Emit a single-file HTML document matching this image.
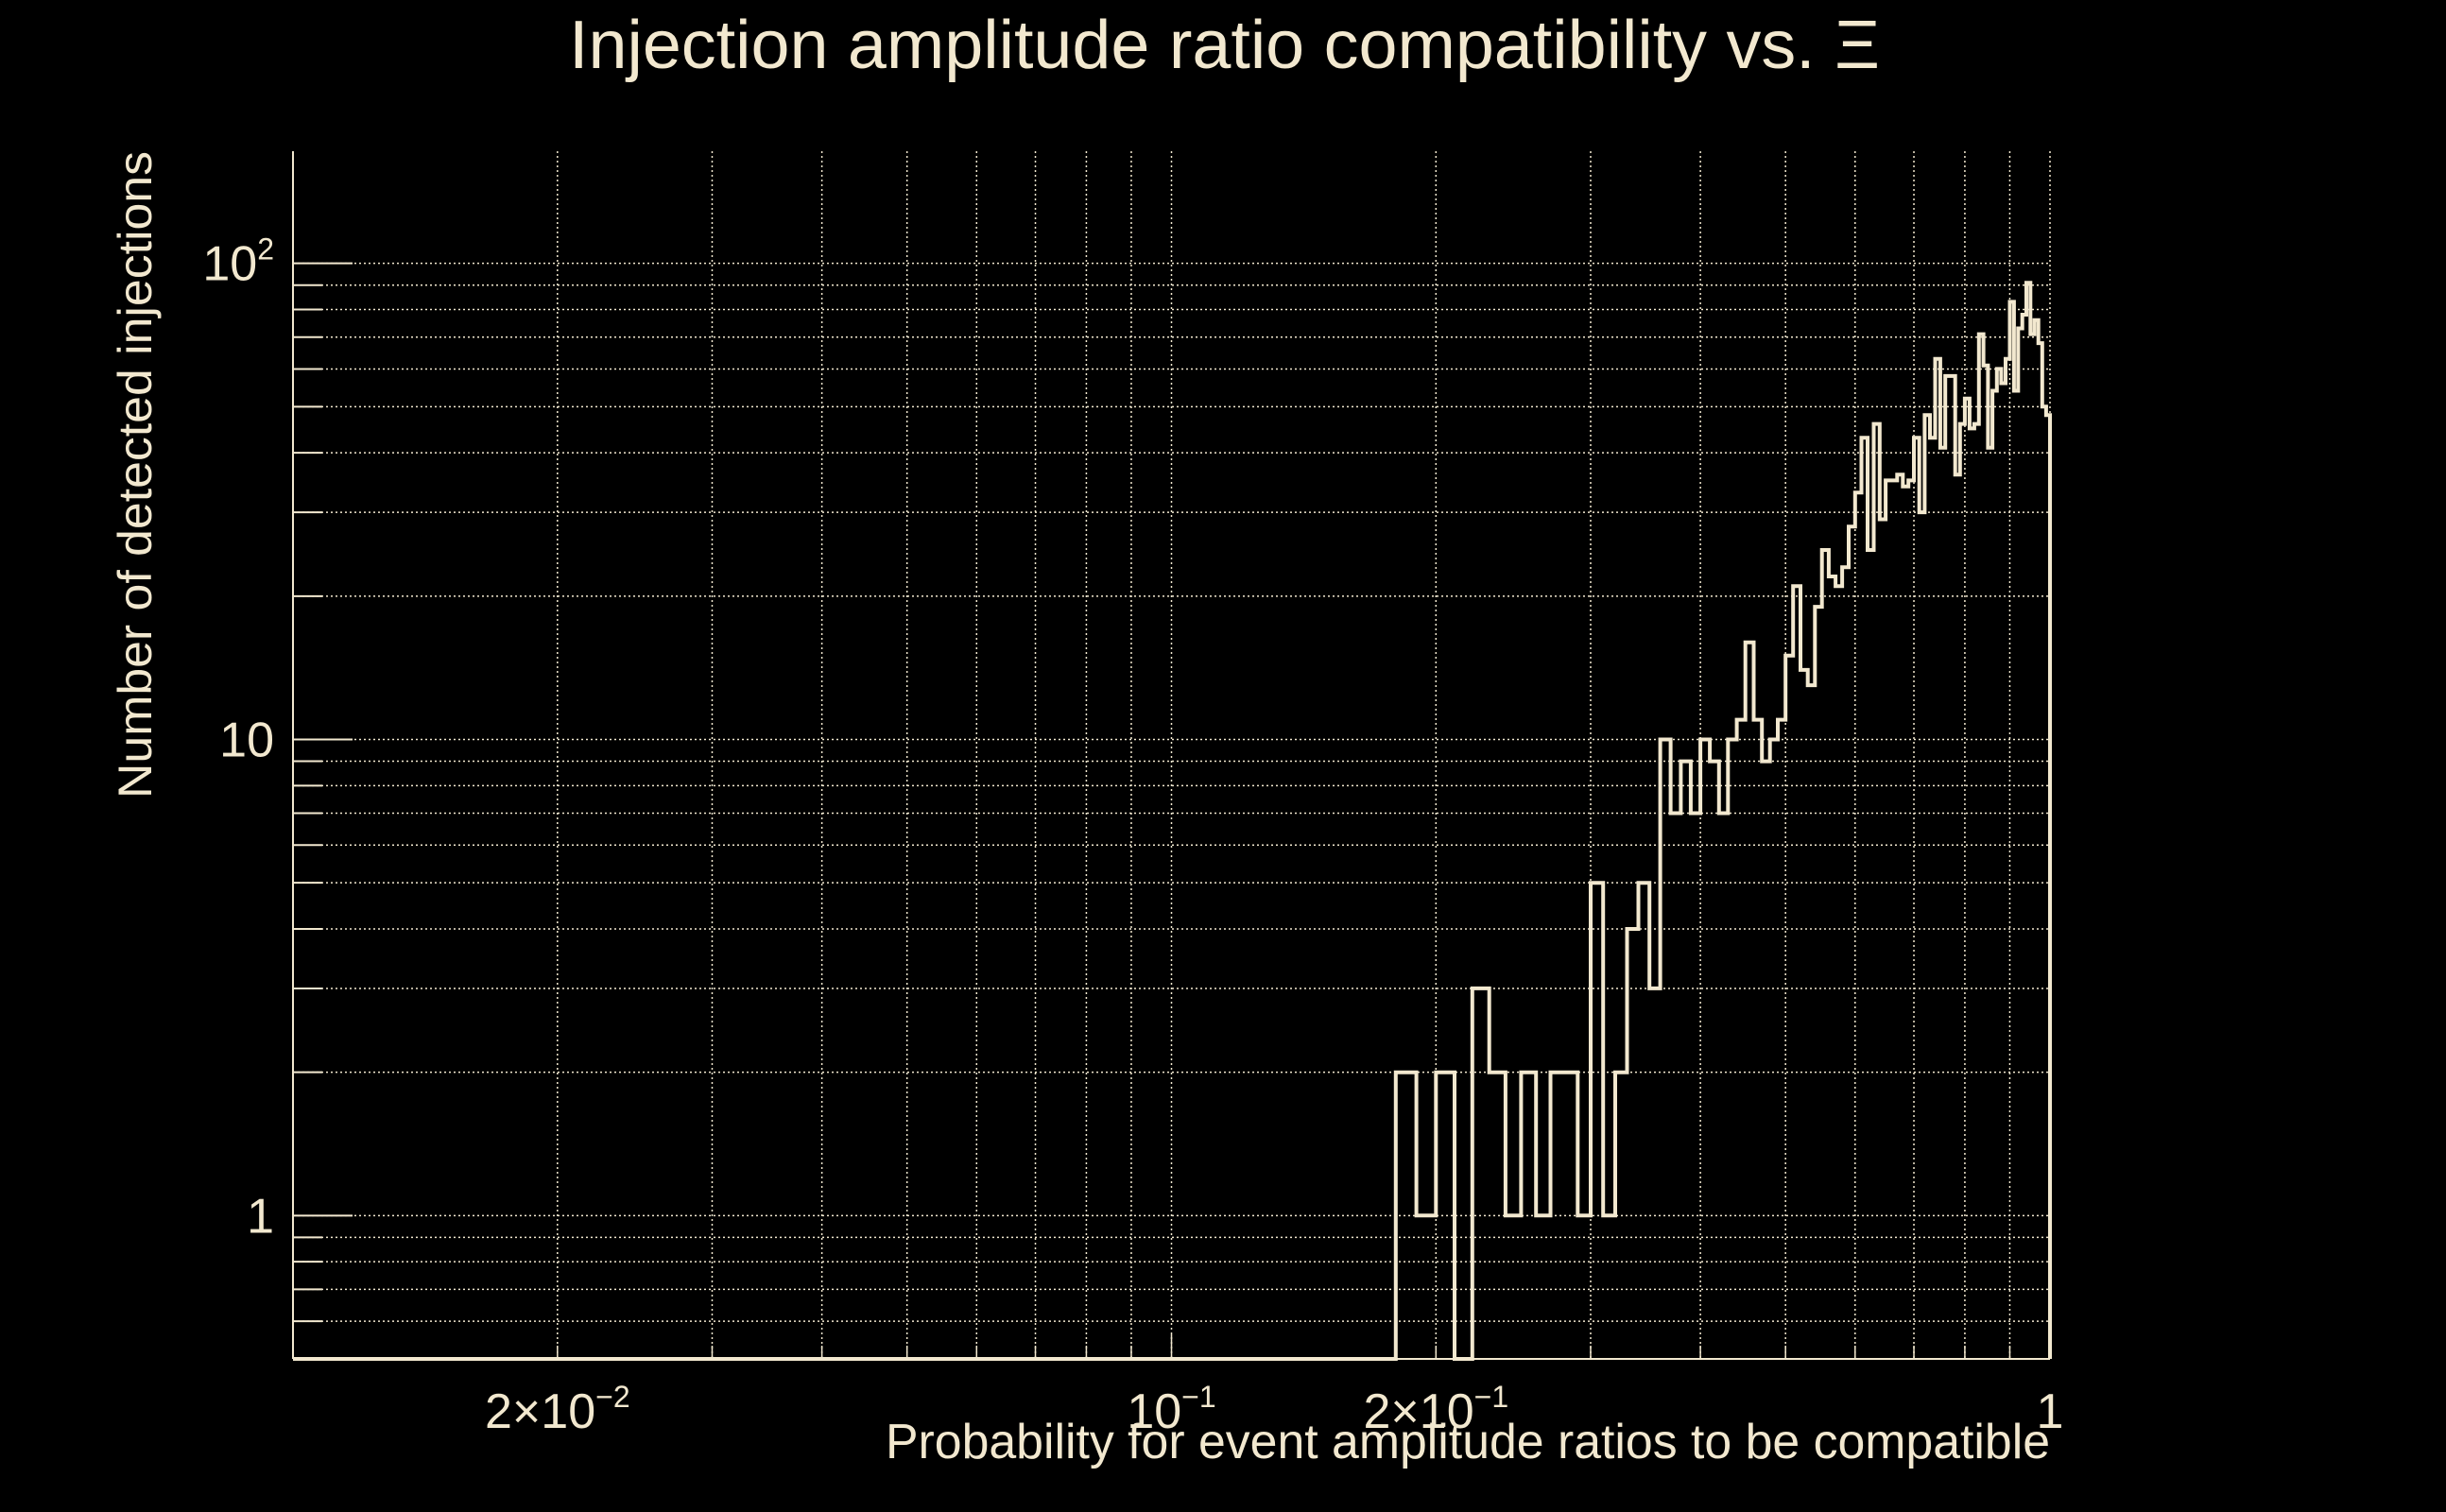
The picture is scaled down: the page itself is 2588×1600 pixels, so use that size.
<!DOCTYPE html>
<html><head><meta charset="utf-8">
<style>
html,body{margin:0;padding:0;background:#000;}
svg{display:block;}
text{font-family:"Liberation Sans",sans-serif;fill:#f2e8cf;}
</style></head>
<body>
<svg id="chart" width="2588" height="1600" viewBox="0 0 2588 1600" xmlns="http://www.w3.org/2000/svg">
<rect x="0" y="0" width="2588" height="1600" fill="#000"/>
<text x="602" y="72" font-size="72" textLength="1387" lengthAdjust="spacingAndGlyphs">Injection amplitude ratio compatibility vs.  Ξ</text>
<g id="grid"></g>
<g id="axes"></g>
<path id="hist" fill="none" stroke="#f2e8cf" stroke-width="4" stroke-linejoin="miter"/>
<text transform="translate(160,845) rotate(-90)" font-size="50" textLength="685" lengthAdjust="spacingAndGlyphs">Number of detected injections</text>
<text x="2169" y="1543" font-size="52" text-anchor="end" textLength="1232" lengthAdjust="spacingAndGlyphs">Probability for event amplitude ratios to be compatible</text>
</svg>
<script>
// bin lower edges (p) and counts, bins of width 0.01 from 0 to 1
const binStarts = [];
for (let i = 0; i < 100; i++) binStarts.push(i / 100);
const countsLow = [0,0,0,0,0,0,0,0,0,0,0,0,0,0,0,0,0,0]; // 0.00 - 0.17
const countsMid = [2,1,2,0,3,2,1,2,1,2,2,1,5,1,2,4,5,3]; // 0.18 - 0.35
const countsHigh = [10,7,9,7,10,9,7,10,11,16,11,9,10,11,15,21,14,13,19,25,22,21,23,28,33,43,25,46,29,35,35,36,34,35,43,30,48,43,63,41,58,58,36,46,52,45,46,71,61,41,54,60,56,63,83,54,73,78,91,71,76,68,50,48]; // 0.36 - 0.99
const counts = countsLow.concat(countsMid, countsHigh);
const xTickVals = [0.02, 0.1, 0.2, 1];
const xTickLabels = ["2×10", "10", "2×10", "1"];
const xTickExps = ["−2", "−1", "−1", ""];
const yTickVals = [1, 10, 100];
const yTickLabels = ["1", "10", "10"];
const yTickExps = ["", "", "2"];

const X0 = 310, X1 = 2169, Y0 = 1438, Y1 = 160;
const xMin = 0.01, xMax = 1, yMin = 0.5, yMax = 172;
function xs(v){ return X0 + (Math.log10(v) - Math.log10(xMin)) / (Math.log10(xMax) - Math.log10(xMin)) * (X1 - X0); }
function ys(v){ if (v <= yMin) return Y0; return Y0 - (Math.log10(v) - Math.log10(yMin)) / (Math.log10(yMax) - Math.log10(yMin)) * (Y0 - Y1); }

const NS = "http://www.w3.org/2000/svg";
const grid = document.getElementById('grid');
const axes = document.getElementById('axes');
const col = "#f2e8cf";
function line(parent, x1, y1, x2, y2, w, dash, name){
  const l = document.createElementNS(NS, 'line');
  l.setAttribute('x1', x1); l.setAttribute('y1', y1); l.setAttribute('x2', x2); l.setAttribute('y2', y2);
  l.setAttribute('stroke', col); l.setAttribute('stroke-width', w);
  if (dash) l.setAttribute('stroke-dasharray', dash);
  
  
  parent.appendChild(l);
}
// vertical grid
for (let d = -2; d <= -1; d++) for (let m = 1; m <= 9; m++) {
  const v = m * Math.pow(10, d);
  if (v <= xMin) continue;
  const x = xs(v);
  line(grid, x, Y1, x, Y0, 1.5, "2,3", 'x-gridline');
  line(axes, x, Y0, x, Y0 - (m === 1 ? 26 : 14), 1.5, null, 'x-tick');
}
// horizontal grid
for (let d = -1; d <= 2; d++) for (let m = 1; m <= 9; m++) {
  const v = m * Math.pow(10, d);
  if (v < yMin || v > yMax) continue;
  const y = ys(v);
  line(grid, X0, y, X1, y, 1.5, "2,3", 'y-gridline');
  line(axes, X0, y, X0 + (m === 1 ? 63 : 31), y, 2, null, 'y-tick');
}
line(axes, X0, Y1, X0, Y0, 2, null, 'y-axis-line');
line(axes, X0, Y0, X1, Y0, 2, null, 'x-axis-line');
line(axes, X1, Y1, X1, Y0, 1.5, "2,3", 'right-gridline');

// tick labels
function label(x, y, base, exp, anchor, name){
  const t = document.createElementNS(NS, 'text');
  t.setAttribute('x', x); t.setAttribute('y', y);
  t.setAttribute('font-size', '52');
  t.setAttribute('text-anchor', anchor);
  
  
  t.textContent = base;
  if (exp) {
    const s = document.createElementNS(NS, 'tspan');
    s.setAttribute('font-size', '32'); s.setAttribute('dy', '-22');
    s.textContent = exp;
    t.appendChild(s);
  }
  axes.appendChild(t);
}
xTickVals.forEach((v, i) => { label(xs(v), 1511, xTickLabels[i], xTickExps[i], 'middle', 'x-tick-label'); });
yTickVals.forEach((v, i) => { label(290, ys(v) + 18, yTickLabels[i], yTickExps[i], 'end', 'y-tick-label'); });

// histogram step path
let d = "M" + xs(xMin) + "," + Y0;
for (let i = 0; i < counts.length; i++) {
  const lo = Math.max(binStarts[i], xMin), hi = binStarts[i] + 0.01;
  if (hi <= xMin) continue;
  const y = ys(counts[i]);
  d += " L" + xs(lo).toFixed(1) + "," + y.toFixed(1) + " L" + xs(hi).toFixed(1) + "," + y.toFixed(1);
}
d += " L" + xs(1) + "," + Y0;
document.getElementById('hist').setAttribute('d', d);
</script>
</body></html>
